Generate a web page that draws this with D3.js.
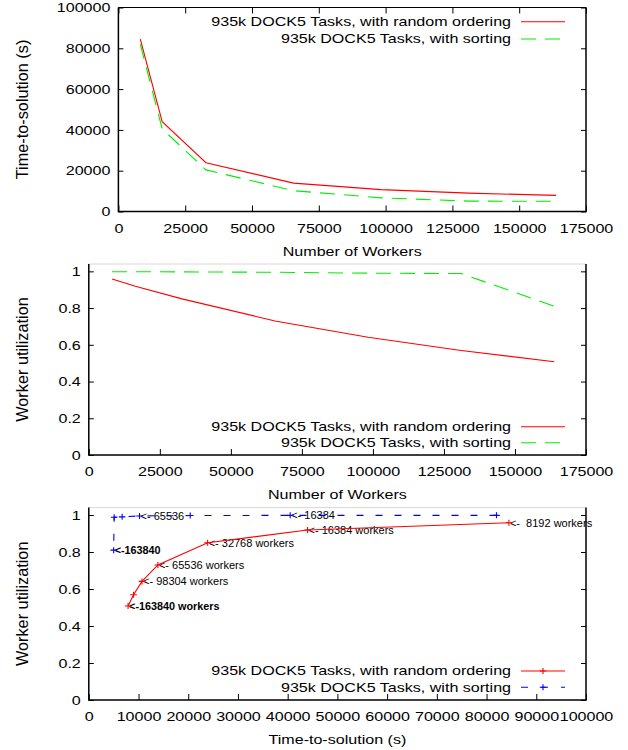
<!DOCTYPE html>
<html>
<head>
<meta charset="utf-8">
<script src="https://cdn.jsdelivr.net/npm/d3@7"></script>
<style>
  html, body { margin: 0; padding: 0; background: #fff; }
  svg { display: block; font-family: "Liberation Sans", Arial, Helvetica, sans-serif; }
</style>
</head>
<body>
<svg id="chart" width="628" height="750"></svg>
<script>
// ---------- data ----------
const workers = [8192, 16384, 32768, 65536, 98304, 131072, 163840];
const timeRandom = [84500, 44000, 23900, 13900, 10700, 9000, 7900];
const timeSorted = [82000, 40500, 20400, 10200, 6700, 5100, 5000];
const utilRandom = [0.958, 0.919, 0.850, 0.730, 0.641, 0.569, 0.508];
const utilSorted = [0.998, 0.998, 0.997, 0.995, 0.990, 0.988, 0.810];
const labelsRandom = ["<-  8192 workers", "<- 16384 workers", "<- 32768 workers", "<- 65536 workers", "<- 98304 workers", "", "<-163840 workers"];
const labelsSorted = ["", "<- 16384", "", "<- 65536", "", "", "<-163840"];
const seriesNames = ["935k DOCK5 Tasks, with random ordering", "935k DOCK5 Tasks, with sorting"];
const xTicksWorkers = [0, 25000, 50000, 75000, 100000, 125000, 150000, 175000];
const yTicksTime = [0, 20000, 40000, 60000, 80000, 100000];
const yTicksUtil = [0, 0.2, 0.4, 0.6, 0.8, 1];
const xTicksTime = [0, 10000, 20000, 30000, 40000, 50000, 60000, 70000, 80000, 90000, 100000];
const axisTitles = { workers: "Number of Workers", time: "Time-to-solution (s)", util: "Worker utilization" };

// ---------- style ----------
const SX = 1.34;           // horizontal stretch of the original raster text
const FS = 12;
const RED = "#ff0000", GREEN = "#00ee00", BLUE = "#0000ff";
const GREEN_DASH = "15,9", BLUE_DASH = "7,12";

const svg = d3.select("#chart");

function panel(box, xDomain, yDomain, xTicks, yTicks, yFmt, xTitle, yTitle, topTicks, topColor) {
  const x = d3.scaleLinear().domain(xDomain).range([box.l, box.r]);
  const y = d3.scaleLinear().domain(yDomain).range([box.b, box.t]);
  const g = svg.append("g");

  // bottom axis
  const ax = g.append("g").attr("transform", `translate(0,${box.b})`)
    .call(d3.axisBottom(x).tickValues(xTicks).tickSize(-6).tickPadding(0).tickFormat(d3.format("d")));
  ax.select(".domain").remove();
  ax.selectAll("line").attr("stroke", "#000");
  ax.selectAll("text").attr("y", 0).attr("dy", null)
    .attr("dominant-baseline", "central")
    .attr("transform", `translate(0,17) scale(${SX},1)`)
    .attr("font-size", FS).attr("fill", "#000").attr("font-family", null);

  // left axis
  const ay = g.append("g").attr("transform", `translate(${box.l},0)`)
    .call(d3.axisLeft(y).tickValues(yTicks).tickSize(-5).tickPadding(0).tickFormat(yFmt));
  ay.select(".domain").remove();
  ay.selectAll("line").attr("stroke", "#000");
  ay.selectAll("text").attr("x", 0).attr("dy", null)
    .attr("dominant-baseline", "central")
    .attr("text-anchor", "end")
    .attr("transform", `translate(-8,0) scale(${SX},1)`)
    .attr("font-size", FS).attr("fill", "#000").attr("font-family", null);

  // right mirror ticks
  const ar = g.append("g").attr("transform", `translate(${box.r},0)`)
    .call(d3.axisRight(y).tickValues(yTicks).tickSize(-5).tickFormat(""));
  ar.select(".domain").remove();
  ar.selectAll("line").attr("stroke", "#000");

  if (topTicks) {
    const at = g.append("g").attr("transform", `translate(0,${box.t})`)
      .call(d3.axisTop(x).tickValues(xTicks).tickSize(-6).tickFormat(""));
    at.select(".domain").remove();
    at.selectAll("line").attr("stroke", "#000");
  }

  // frame
  g.append("line").attr("x1", box.l).attr("x2", box.r).attr("y1", box.t).attr("y2", box.t)
    .attr("stroke", topColor).attr("stroke-width", 1);
  g.append("path")
    .attr("d", `M${box.l},${box.t}V${box.b}H${box.r}V${box.t}`)
    .attr("fill", "none").attr("stroke", "#000").attr("stroke-width", 1.5);

  // titles
  g.append("text")
    .attr("transform", `translate(${(box.l + box.r) / 2},${box.b + 40}) scale(${SX},1)`)
    .attr("text-anchor", "middle").attr("dominant-baseline", "central")
    .attr("font-size", FS).text(xTitle);
  g.append("text")
    .attr("transform", `translate(22,${(box.t + box.b) / 2}) rotate(-90)`)
    .attr("text-anchor", "middle").attr("dominant-baseline", "central")
    .attr("font-size", 16.3).text(yTitle);

  return { x, y, g };
}

function legend(g, xEnd, yRows, styles) {
  styles.forEach((s, i) => {
    const yy = yRows[i];
    g.append("text")
      .attr("transform", `translate(${xEnd},${yy}) scale(${SX},1)`)
      .attr("text-anchor", "end").attr("dominant-baseline", "central")
      .attr("font-size", FS).text(seriesNames[i]);
    g.append("line").attr("x1", xEnd + 10).attr("x2", xEnd + 54)
      .attr("y1", yy).attr("y2", yy)
      .attr("stroke", s.color).attr("stroke-width", 1.1)
      .attr("stroke-dasharray", s.dash || null);
    if (s.marker) {
      g.append("path").attr("d", crossPath(xEnd + 32, yy))
        .attr("stroke", s.color).attr("stroke-width", 1.1).attr("fill", "none");
    }
  });
}

function crossPath(cx, cy) {
  return `M${cx - 3.3},${cy}H${cx + 3.3}M${cx},${cy - 3}V${cy + 3}`;
}

function series(p, xs, ys, color, dash, markers) {
  const pts = xs.map((v, i) => [p.x(v), p.y(ys[i])]);
  p.g.append("path").attr("d", d3.line()(pts))
    .attr("fill", "none").attr("stroke", color).attr("stroke-width", 1.1)
    .attr("stroke-dasharray", dash || null);
  if (markers) {
    p.g.selectAll(null).data(pts).enter().append("path")
      .attr("d", d => crossPath(d[0], d[1]))
      .attr("stroke", color).attr("stroke-width", 1.1).attr("fill", "none");
  }
}

// ---------- panel 1: time vs workers ----------
const p1 = panel({ l: 118.4, r: 586, t: 7.5, b: 211.5 }, [0, 175000], [0, 100000],
  xTicksWorkers, yTicksTime, d3.format("d"), axisTitles.workers, axisTitles.time, true, "#000");
series(p1, workers, timeRandom, RED, null, false);
series(p1, workers, timeSorted, GREEN, GREEN_DASH, false);
legend(p1.g, 511, [21.7, 39], [{ color: RED }, { color: GREEN, dash: GREEN_DASH }]);

// ---------- panel 2: utilization vs workers ----------
const p2 = panel({ l: 88.8, r: 586, t: 264, b: 455 }, [0, 175000], [0, 1.04],
  xTicksWorkers, yTicksUtil, d3.format(""), axisTitles.workers, axisTitles.util, false, "#d8d8d8");
series(p2, workers, utilRandom, RED, null, false);
series(p2, workers, utilSorted, GREEN, GREEN_DASH, false);
legend(p2.g, 511, [426.7, 442.7], [{ color: RED }, { color: GREEN, dash: GREEN_DASH }]);

// ---------- panel 3: utilization vs time ----------
const p3 = panel({ l: 88.8, r: 586, t: 507.6, b: 700 }, [0, 100000], [0, 1.04],
  xTicksTime, yTicksUtil, d3.format(""), axisTitles.time, axisTitles.util, false, "#d8d8d8");

// point labels (drawn first, lines go over them)
function pointLabels(p, xs, ys, labels, color) {
  labels.forEach((t, i) => {
    if (!t) return;
    const bold = t.indexOf("<-1") === 0;
    p.g.append("text")
      .attr("x", p.x(xs[i]) + 1).attr("y", p.y(ys[i]))
      .attr("dominant-baseline", "central")
      .style("white-space", "pre")
      .attr("font-size", bold ? 10.8 : 11)
      .attr("font-weight", bold ? "bold" : null)
      .attr("fill", color)
      .text(t);
  });
}
pointLabels(p3, timeRandom, utilRandom, labelsRandom, "#000");
pointLabels(p3, timeSorted, utilSorted, labelsSorted, "#000");

series(p3, timeRandom, utilRandom, RED, null, true);
series(p3, timeSorted, utilSorted, BLUE, BLUE_DASH, true);
legend(p3.g, 511, [671, 687.3], [{ color: RED, marker: true }, { color: BLUE, dash: "7,13", marker: true }]);
</script>
</body>
</html>
